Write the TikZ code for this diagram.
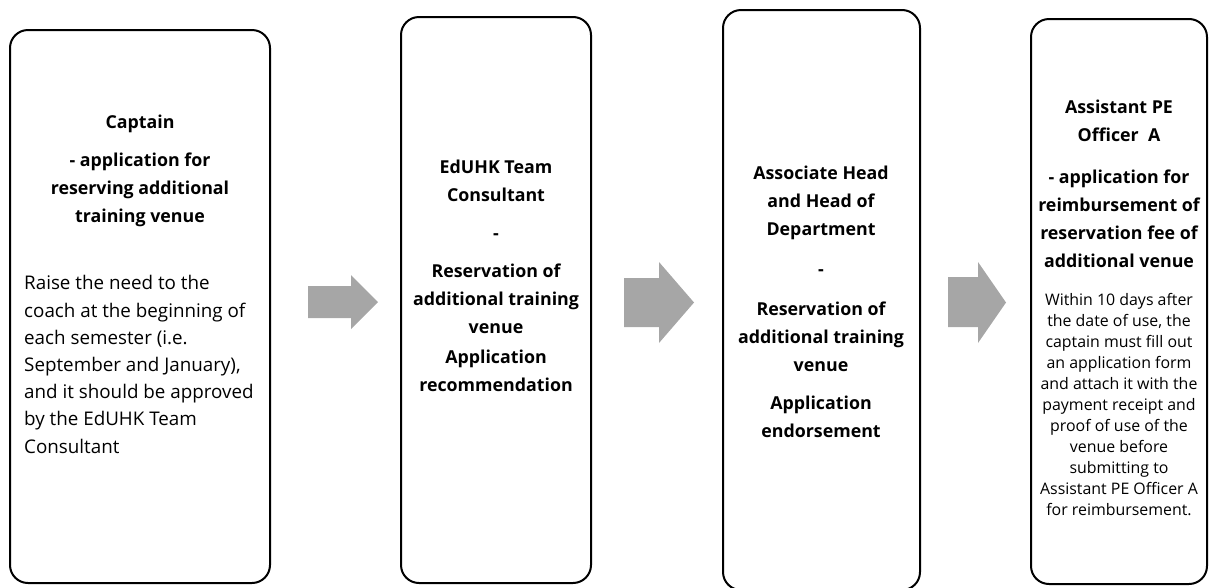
\documentclass[tikz,border=0pt]{standalone}
\usepackage{fontspec}
\setmainfont{Open Sans}
\usepackage{tikz}

\tikzset{
	stage/.style={draw, line width=2pt, rounded corners=18pt, inner sep=0pt},
	head/.style={align=center, inner sep=0pt, font=\fontsize{17.8}{28}\selectfont\bfseries},
	body/.style={align=left, inner sep=0pt, font=\fontsize{18.8}{27.2}\selectfont},
	small/.style={align=center, inner sep=0pt, font=\fontsize{15.9}{21}\selectfont},
	flow/.style={fill=black!35}
}

\begin{document}
\begin{tikzpicture}[x=1pt, y=-1pt]
	\useasboundingbox (0,0) rectangle (1209,587);
	% the four stages
	\node [stage, minimum width=260pt, minimum height=553pt] (captain) at (140,306.5) {};
	\node [stage, minimum width=190pt, minimum height=566pt] (consultant) at (496,300) {};
	\node [stage, minimum width=197pt, minimum height=580pt] (head) at (821.5,300) {};
	\node [stage, minimum width=176pt, minimum height=565pt] (officer) at (1119,301.5) {};
	% texts
	\node [head] (captainT) at (140,171) {Captain\\[10pt]- application for\\reserving additional\\training venue};
	\node [body, anchor=west] (captainB) at (24,364.5) {Raise the need to the\\coach at the beginning of\\each semester (i.e.\\September and January),\\and it should be approved\\by the EdUHK Team\\Consultant};
	\node [head] (consultantT) at (496,276) {EdUHK Team\\Consultant\\[10pt]-\\[10pt]Reservation of\\additional training\\venue\\[2pt]Application\\recommendation};
	\node [head] (headT) at (821,301.5) {Associate Head\\and Head of\\Department\\[12pt]-\\[12pt]Reservation of\\additional training\\venue\\[10pt]Application\\endorsement};
	\node [head] (officerT) at (1119,184) {Assistant PE\\Officer~ A\\[14pt]- application for\\reimbursement of\\reservation fee of\\additional venue};
	\node [small] (officerB) at (1119,405) {Within 10 days after\\the date of use, the\\captain must fill out\\an application form\\and attach it with the\\payment receipt and\\proof of use of the\\venue before\\submitting to\\Assistant PE Officer A\\for reimbursement.};
	% arrows between stages
	\fill [flow] (308,286) -- (351,286) -- (351,275) -- (378,302) -- (351,329) -- (351,318) -- (308,318) -- cycle;
	\fill [flow] (624,278) -- (659,278) -- (659,262) -- (694,302.5) -- (659,343) -- (659,327) -- (624,327) -- cycle;
	\fill [flow] (948,277) -- (978,277) -- (978,262) -- (1006,302.5) -- (978,343) -- (978,327) -- (948,327) -- cycle;
\end{tikzpicture}
\end{document}
